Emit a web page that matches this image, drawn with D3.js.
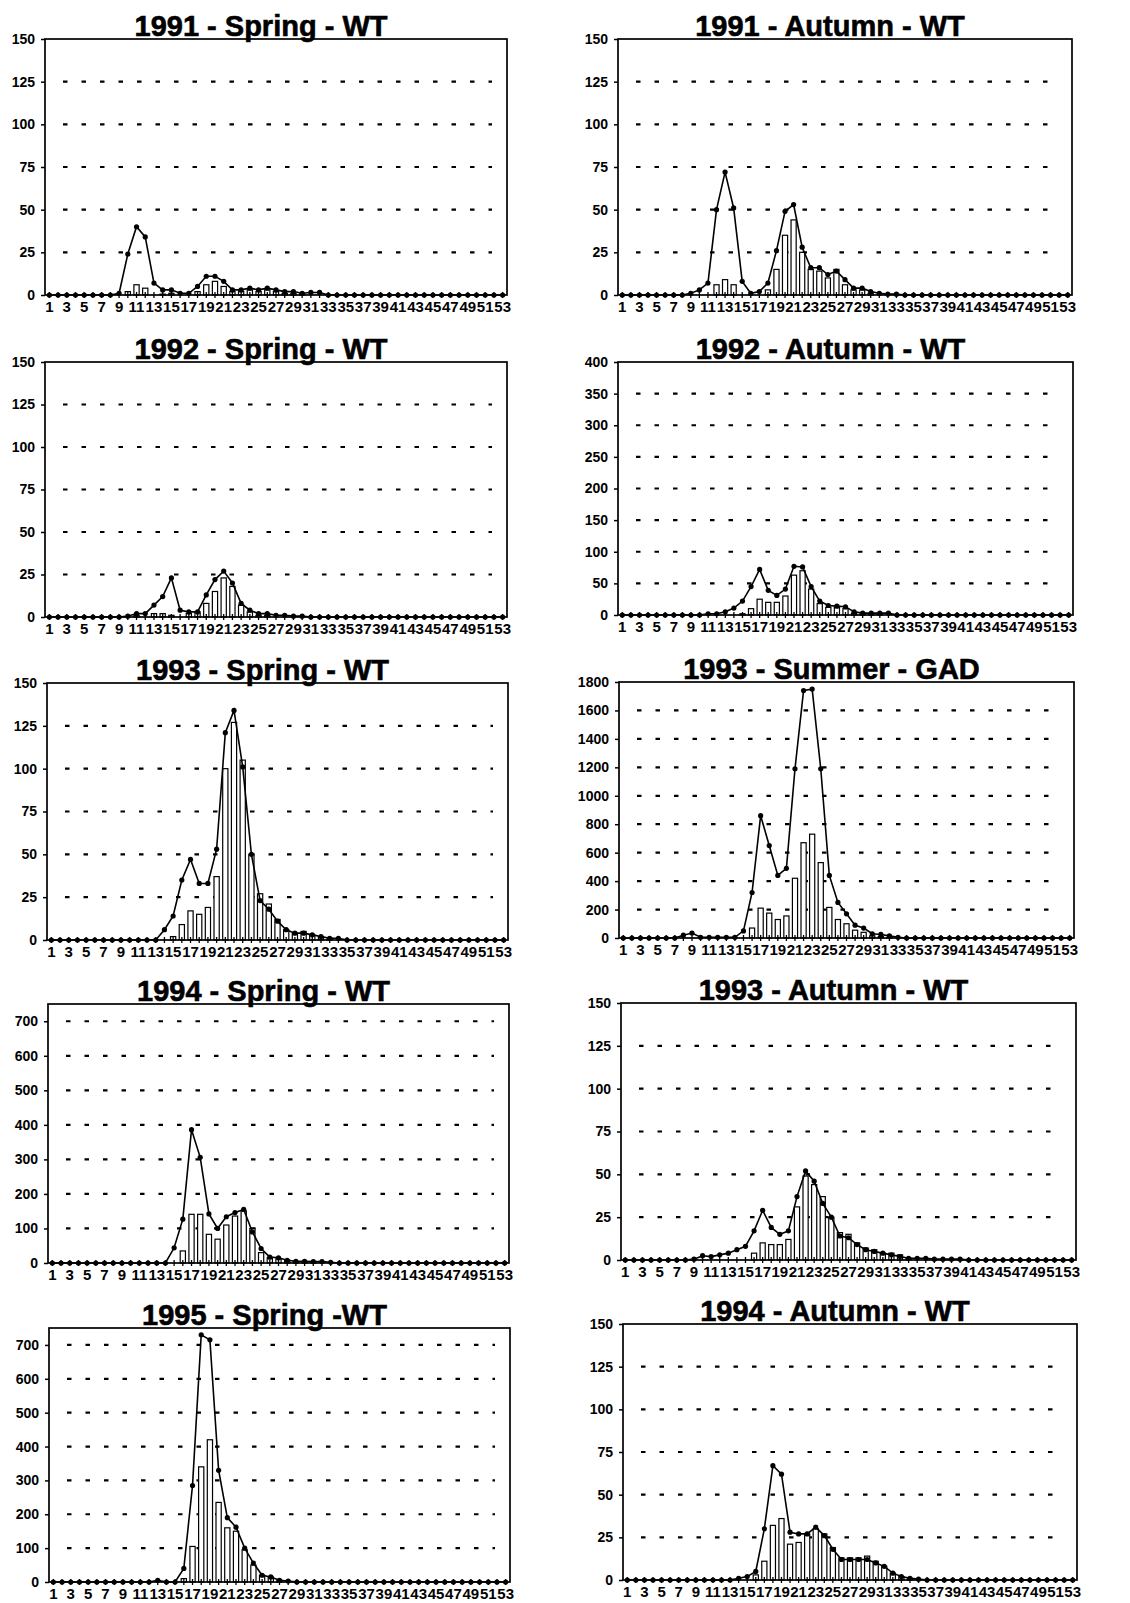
<!DOCTYPE html>
<html>
<head>
<meta charset="utf-8">
<script src="https://cdn.jsdelivr.net/npm/d3@7"></script>
<style>
body { margin: 0; background: #fff; }
svg { display: block; font-family: "Liberation Sans", Arial, Helvetica, sans-serif; }
</style>
</head>
<body>
<svg width="1130" height="1603"></svg>
<script>
const svg = d3.select("svg");

// length classes 1..53, labelled every other one
const categories = d3.range(1, 54);
const xTickLabels = categories.filter(c => c % 2 === 1);

const titles = [
    "1991 - Spring - WT", "1991 - Autumn - WT",
    "1992 - Spring - WT", "1992 - Autumn - WT",
    "1993 - Spring - WT", "1993 - Summer - GAD",
    "1994 - Spring - WT", "1993 - Autumn - WT",
    "1995 - Spring -WT", "1994 - Autumn - WT"
];
const yMax = [150, 150, 150, 400, 150, 1800, 750, 150, 750, 150];
const yStep = [25, 25, 25, 50, 25, 200, 100, 25, 100, 25];

// line = total, bars = subset (one value per length class)
const line1991Spring = [
    0, 0, 0, 0, 0, 0, 0, 0, 1, 24,
    40, 34, 7, 3, 3, 1, 1, 5, 11, 11,
    8, 3, 3, 4, 3, 4, 3, 2, 2, 1,
    1.5, 1.5, 0, 0, 0, 0, 0, 0, 0, 0,
    0, 0, 0, 0, 0, 0, 0, 0, 0, 0,
    0, 0, 0];
const bars1991Spring = [
    0, 0, 0, 0, 0, 0, 0, 0, 0, 2,
    6, 4, 0, 0.5, 1, 0, 0, 2, 6, 8,
    5, 2, 2, 3, 2, 3, 2, 1, 1, 0.5,
    0, 0, 0, 0, 0, 0, 0, 0, 0, 0,
    0, 0, 0, 0, 0, 0, 0, 0, 0, 0,
    0, 0, 0];

const line1991Autumn = [
    0, 0, 0, 0, 0, 0, 0, 0, 1, 3,
    7, 50, 72, 51, 8, 1, 2, 7, 26, 49,
    53, 28, 16, 16, 12, 14, 9, 4, 4, 2,
    1, 0.5, 0.5, 0, 0, 0, 0, 0, 0, 0,
    0, 0, 0, 0, 0, 0, 0, 0, 0, 0,
    0, 0, 0];
const bars1991Autumn = [
    0, 0, 0, 0, 0, 0, 0, 0, 0, 0,
    0, 6, 9, 6, 0, 0, 0, 3, 15, 35,
    44, 25, 15, 14, 10, 15, 6, 3, 3, 1,
    0, 0, 0, 0, 0, 0, 0, 0, 0, 0,
    0, 0, 0, 0, 0, 0, 0, 0, 0, 0,
    0, 0, 0];

const line1992Spring = [
    0, 0, 0, 0, 0, 0, 0, 0, 0, 0.5,
    2, 2, 7, 12, 23, 4, 3, 3, 13, 22,
    27, 20, 8, 4, 2, 2, 1, 1, 0.5, 0.5,
    0, 0, 0, 0, 0, 0, 0, 0, 0, 0,
    0, 0, 0, 0, 0, 0, 0, 0, 0, 0,
    0, 0, 0];
const bars1992Spring = [
    0, 0, 0, 0, 0, 0, 0, 0, 0, 0,
    1, 0, 2, 2, 1, 0, 2, 3, 8, 15,
    23, 18, 7, 3, 1, 1, 0, 0, 0, 0,
    0, 0, 0, 0, 0, 0, 0, 0, 0, 0,
    0, 0, 0, 0, 0, 0, 0, 0, 0, 0,
    0, 0, 0];

const line1992Autumn = [
    0, 0, 0, 0, 0, 0, 0, 0, 0, 0,
    2, 2, 5, 11, 22, 45, 72, 39, 31, 41,
    77, 76, 45, 22, 15, 14, 13, 5, 3, 3,
    3, 3, 0, 0, 0, 0, 0, 0, 0, 0,
    0, 0, 0, 0, 0, 0, 0, 0, 0, 0,
    0, 0, 0];
const bars1992Autumn = [
    0, 0, 0, 0, 0, 0, 0, 0, 0, 0,
    0, 0, 0, 0, 2, 10, 25, 20, 20, 30,
    63, 70, 41, 18, 12, 12, 10, 3, 2, 2,
    2, 0, 0, 0, 0, 0, 0, 0, 0, 0,
    0, 0, 0, 0, 0, 0, 0, 0, 0, 0,
    0, 0, 0];

const line1993Spring = [
    0, 0, 0, 0, 0, 0, 0, 0, 0, 0,
    0, 0, 0, 6, 14, 35, 47, 33, 33, 53,
    121, 134, 101, 50, 23, 18, 11, 6, 4, 4,
    3, 2, 1, 1, 0, 0, 0, 0, 0, 0,
    0, 0, 0, 0, 0, 0, 0, 0, 0, 0,
    0, 0, 0];
const bars1993Spring = [
    0, 0, 0, 0, 0, 0, 0, 0, 0, 0,
    0, 0, 0, 0, 2, 9, 17, 15, 19, 37,
    100, 127, 105, 50, 27, 21, 12, 6, 4, 5,
    3, 2, 1, 0, 0, 0, 0, 0, 0, 0,
    0, 0, 0, 0, 0, 0, 0, 0, 0, 0,
    0, 0, 0];

const line1993Summer = [
    0, 0, 0, 0, 0, 0, 0, 20, 35, 5,
    5, 5, 5, 5, 50, 320, 860, 650, 440, 490,
    1190, 1740, 1750, 1190, 440, 250, 170, 90, 70, 30,
    25, 15, 5, 0, 0, 0, 0, 0, 0, 0,
    0, 0, 0, 0, 0, 0, 0, 0, 0, 0,
    0, 0, 0];
const bars1993Summer = [
    0, 0, 0, 0, 0, 0, 0, 0, 0, 0,
    0, 0, 0, 0, 0, 70, 210, 175, 130, 155,
    420, 670, 730, 530, 215, 130, 100, 55, 40, 15,
    10, 5, 0, 0, 0, 0, 0, 0, 0, 0,
    0, 0, 0, 0, 0, 0, 0, 0, 0, 0,
    0, 0, 0];

const line1994Spring = [
    0, 0, 0, 0, 0, 0, 0, 0, 0, 0,
    0, 0, 0, 0, 44, 127, 386, 306, 142, 100,
    134, 146, 155, 90, 42, 17, 15, 8, 5, 5,
    4, 4, 2, 0, 0, 0, 0, 0, 0, 0,
    0, 0, 0, 0, 0, 0, 0, 0, 0, 0,
    0, 0, 0];
const bars1994Spring = [
    0, 0, 0, 0, 0, 0, 0, 0, 0, 0,
    0, 0, 0, 0, 0, 35, 141, 141, 83, 69,
    110, 136, 151, 100, 30, 15, 12, 8, 4, 4,
    3, 0, 0, 0, 0, 0, 0, 0, 0, 0,
    0, 0, 0, 0, 0, 0, 0, 0, 0, 0,
    0, 0, 0];

const line1993Autumn = [
    0, 0, 0, 0, 0, 0, 0, 0, 0.5, 2.5,
    2, 3, 4, 6, 8, 17, 29, 19, 15, 17,
    37, 52, 46, 33, 25, 14, 13, 9, 6, 5,
    4, 3, 2, 1, 1, 1, 0.5, 0.5, 0.5, 0.5,
    0, 0, 0, 0, 0, 0, 0, 0, 0, 0,
    0, 0, 0];
const bars1993Autumn = [
    0, 0, 0, 0, 0, 0, 0, 0, 0, 0,
    0, 0, 0, 0, 0, 4, 10, 9, 9, 12,
    31, 49, 44, 37, 25, 16, 15, 10, 7, 6,
    4, 4, 3, 1, 0, 0, 0, 0, 0, 0,
    0, 0, 0, 0, 0, 0, 0, 0, 0, 0,
    0, 0, 0];

const line1995Spring = [
    0, 0, 0, 0, 0, 0, 0, 0, 0, 0,
    0, 0, 5, 0, 0, 40, 285, 730, 715, 330,
    190, 162, 100, 56, 20, 15, 5, 3, 0, 0,
    0, 0, 0, 0, 0, 0, 0, 0, 0, 0,
    0, 0, 0, 0, 0, 0, 0, 0, 0, 0,
    0, 0, 0];
const bars1995Spring = [
    0, 0, 0, 0, 0, 0, 0, 0, 0, 0,
    0, 0, 0, 0, 0, 10, 105, 340, 420, 235,
    160, 150, 95, 50, 20, 15, 5, 0, 0, 0,
    0, 0, 0, 0, 0, 0, 0, 0, 0, 0,
    0, 0, 0, 0, 0, 0, 0, 0, 0, 0,
    0, 0, 0];

const line1994Autumn = [
    0, 0, 0, 0, 0, 0, 0, 0, 0, 0,
    0, 0, 0, 1, 2, 5, 30, 67, 62, 28,
    27, 27, 31, 26, 18, 12, 12, 12, 12, 10,
    8, 4, 2, 1, 0.5, 0, 0, 0, 0, 0,
    0, 0, 0, 0, 0, 0, 0, 0, 0, 0,
    0, 0, 0];
const bars1994Autumn = [
    0, 0, 0, 0, 0, 0, 0, 0, 0, 0,
    0, 0, 0, 0, 0, 3, 11, 32, 36, 21,
    22, 27, 30, 27, 19, 13, 13, 13, 14, 11,
    8, 4, 2, 1, 0, 0, 0, 0, 0, 0,
    0, 0, 0, 0, 0, 0, 0, 0, 0, 0,
    0, 0, 0];

const lineSeries = [line1991Spring, line1991Autumn, line1992Spring, line1992Autumn,
    line1993Spring, line1993Summer, line1994Spring, line1993Autumn, line1995Spring, line1994Autumn];
const barSeries = [bars1991Spring, bars1991Autumn, bars1992Spring, bars1992Autumn,
    bars1993Spring, bars1993Summer, bars1994Spring, bars1993Autumn, bars1995Spring, bars1994Autumn];

// plot frame of each panel: left, top, right, bottom (the scan is slightly skewed)
const frames = [
    [45, 39, 507, 295], [618, 39, 1072, 295],
    [45, 362, 507, 617], [618, 362, 1073, 615],
    [47, 683, 508, 940], [619, 682, 1074, 938],
    [48, 1004, 509, 1263], [621, 1003, 1076, 1260],
    [49, 1328, 510, 1582], [623, 1324, 1077, 1580]
];

frames.forEach((f, i) => {
    const [x0, y0, x1, y1] = f;
    const g = svg.append("g");

    const x = d3.scaleBand().domain(categories).range([x0, x1]).padding(0);
    const y = d3.scaleLinear().domain([0, yMax[i]]).range([y1, y0]);
    const yTicks = d3.range(0, yMax[i] + 0.001, yStep[i]);
    const cx = c => x(c) + x.bandwidth() / 2;

    // dashed gridlines (not at 0, not at the frame top)
    yTicks.filter(t => t > 0 && t < yMax[i]).forEach(t => {
        g.append("line")
            .attr("x1", x0 + 18)
            .attr("x2", x1 - 15)
            .attr("y1", y(t))
            .attr("y2", y(t))
            .attr("stroke", "#000")
            .attr("stroke-width", 2.2)
            .attr("stroke-dasharray", "4.5 14");
    });

    // bars
    const bw = x.bandwidth() * 0.6;
    g.selectAll("rect.bar")
        .data(barSeries[i].map((v, k) => ({ c: categories[k], v: v })).filter(d => d.v > 0))
        .join("rect")
        .attr("class", "bar")
        .attr("x", d => cx(d.c) - bw / 2)
        .attr("y", d => y(d.v))
        .attr("width", bw)
        .attr("height", d => y(0) - y(d.v))
        .attr("fill", "#fff")
        .attr("stroke", "#000")
        .attr("stroke-width", 1.2);

    // frame
    g.append("rect")
        .attr("x", x0)
        .attr("y", y0)
        .attr("width", x1 - x0)
        .attr("height", y1 - y0)
        .attr("fill", "none")
        .attr("stroke", "#000")
        .attr("stroke-width", 1.7);

    // small cross ticks on the category axis
    categories.forEach(c => {
        g.append("line")
            .attr("x1", cx(c)).attr("x2", cx(c))
            .attr("y1", y1 - 3).attr("y2", y1 + 3)
            .attr("stroke", "#000")
            .attr("stroke-width", 1.3);
    });

    // y axis
    const yAxis = g.append("g")
        .attr("transform", `translate(${x0},0)`)
        .call(d3.axisLeft(y).tickValues(yTicks).tickFormat(d3.format("d")).tickSize(4).tickPadding(6));
    yAxis.select(".domain").remove();
    yAxis.selectAll("line").attr("stroke-width", 1.5);
    yAxis.selectAll("text")
        .attr("font-size", 14)
        .attr("font-weight", "bold")
        .attr("font-family", "Liberation Sans, Arial, sans-serif")
        .attr("fill", "#000");

    // x axis labels
    const xAxis = g.append("g")
        .attr("transform", `translate(0,${y1})`)
        .call(d3.axisBottom(x).tickValues(xTickLabels).tickSize(0).tickPadding(6));
    xAxis.select(".domain").remove();
    xAxis.selectAll("text")
        .attr("font-size", 15)
        .attr("font-weight", "bold")
        .attr("font-family", "Liberation Sans, Arial, sans-serif")
        .attr("fill", "#000");

    // total line with dot markers
    const pts = lineSeries[i].map((v, k) => ({ c: categories[k], v: v }));
    const lineGen = d3.line().x(d => cx(d.c)).y(d => y(d.v));
    g.append("path")
        .datum(pts)
        .attr("d", lineGen)
        .attr("fill", "none")
        .attr("stroke", "#000")
        .attr("stroke-width", 1.6);

    g.selectAll("circle.pt")
        .data(pts)
        .join("circle")
        .attr("class", "pt")
        .attr("cx", d => cx(d.c))
        .attr("cy", d => y(d.v))
        .attr("r", 2.6)
        .attr("fill", "#000");

    // title sits right on the frame top
    g.append("text")
        .attr("x", (x0 + x1) / 2 - 15)
        .attr("y", y0 - 3)
        .attr("text-anchor", "middle")
        .attr("font-size", 29)
        .attr("font-weight", "bold")
        .attr("fill", "#000")
        .attr("stroke", "#000")
        .attr("stroke-width", 0.6)
        .text(titles[i]);
});
</script>
</body>
</html>
